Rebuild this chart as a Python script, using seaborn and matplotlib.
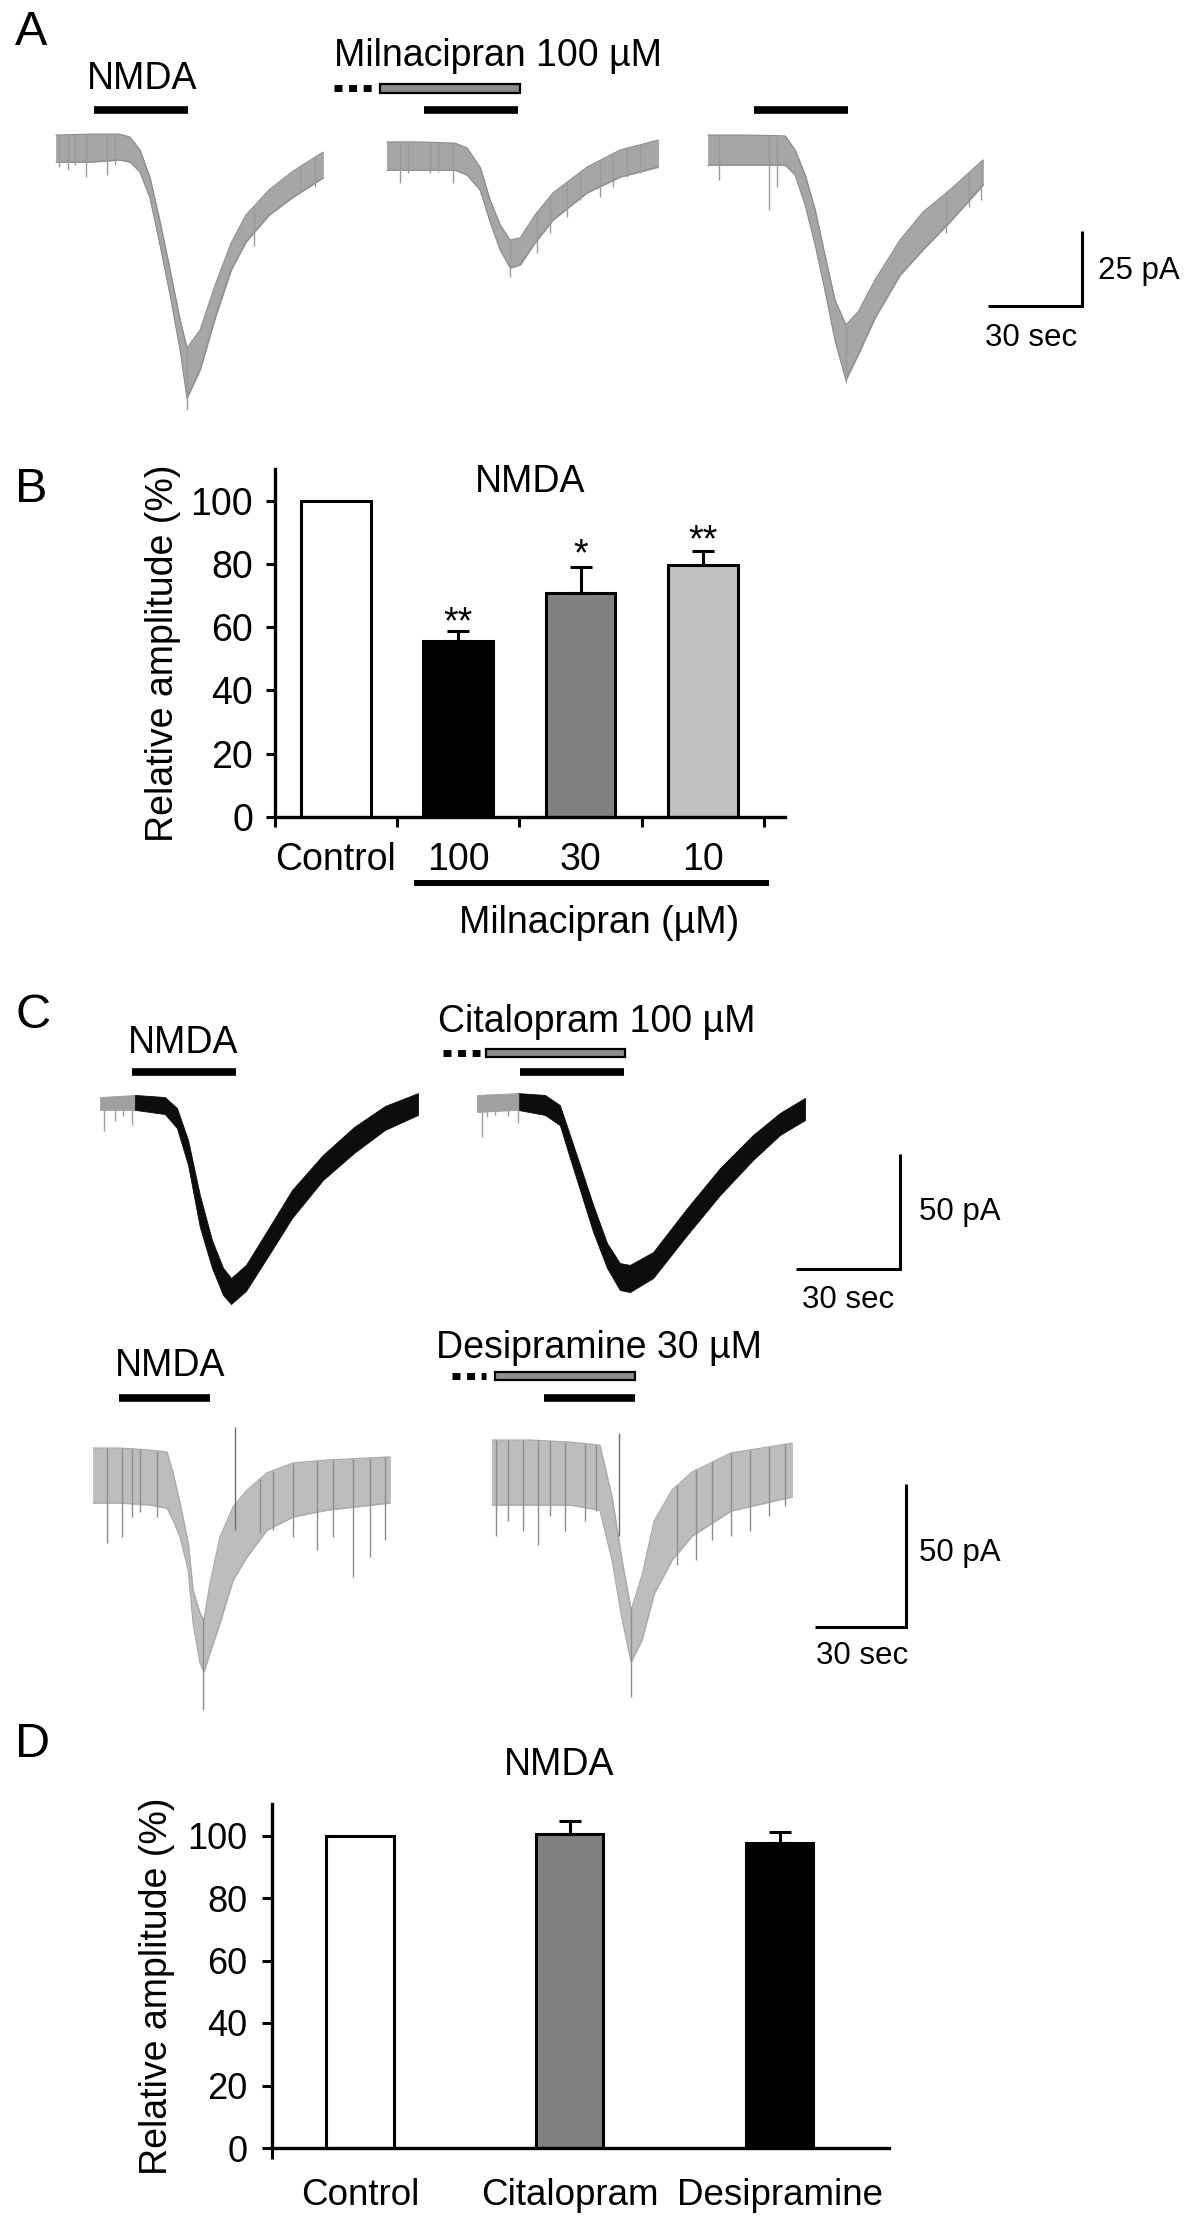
import numpy as np
import pandas as pd
import matplotlib
matplotlib.use('Agg')
import matplotlib.pyplot as plt
import seaborn as sns
from matplotlib.patches import Rectangle
from matplotlib.lines import Line2D

# ------------------------------------------------------------------ data
# Panel B (relative amplitude, %)
b_categories = ['Control', '100', '30', '10']
b_values = [100.0, 55.5, 70.9, 79.8]
b_errors = [0.0, 3.2, 8.0, 4.2]
b_stars = ['', '**', '*', '**']
b_star_y = [0.0, 65.1, 86.5, 91.0]
b_colors = ['#ffffff', '#000000', '#808080', '#c0c0c0']

# Panel D (relative amplitude, %)
d_categories = ['Control', 'Citalopram', 'Desipramine']
d_values = [100.0, 100.5, 97.7]
d_errors = [0.0, 4.3, 3.4]
d_colors = ['#ffffff', '#808080', '#000000']

# Panel A traces: time (s), upper / lower envelope of the current (pA)
a1_t = [0, 10.9, 20.4, 23.6, 26.8, 30.0, 33.2, 36.4, 39.6, 41.8, 46.0, 50.8, 55.9, 60.6, 68.0, 75.3, 85.2]
a1_top = [5.0, 5.3, 5.3, 4.3, 0.0, -9.3, -24.0, -40.0, -56.7, -66.0, -60.0, -45.0, -31.0, -21.7, -13.3, -7.3, -0.7]
a1_bot = [-4.0, -4.0, -3.3, -4.0, -7.3, -16.0, -31.7, -48.3, -66.7, -82.7, -73.3, -56.0, -40.0, -30.7, -21.7, -16.0, -9.3]
a1_spike_t = [1.0, 3.8, 6.1, 9.6, 16.3, 18.8, 41.8, 63.2, 77.9, 82.7]
a1_spike_v = [-5.7, -6.7, -5.0, -9.0, -8.3, -5.0, -86.7, -32.0, -14.3, -12.3]

a2_t = [0, 10.5, 21.7, 25.5, 29.7, 32.9, 36.1, 39.3, 42.5, 47.2, 53.0, 63.8, 74.4, 86.5]
a2_top = [2.7, 2.7, 2.3, 0.7, -5.7, -16.7, -25.0, -30.0, -29.3, -21.7, -14.3, -5.7, 0.0, 3.3]
a2_bot = [-6.7, -6.7, -6.7, -8.3, -13.3, -24.0, -33.3, -39.3, -38.3, -31.0, -23.3, -14.3, -9.0, -5.7]
a2_spike_t = [4.1, 6.7, 13.7, 16.3, 21.1, 39.3, 47.9, 52.0, 57.5, 61.6, 68.0, 72.1, 76.6, 80.8]
a2_spike_v = [-11.0, -7.7, -7.7, -7.3, -11.0, -42.3, -34.3, -27.7, -22.3, -16.7, -15.7, -12.3, -9.0, -7.7]

a3_t = [0, 13.4, 24.6, 27.8, 31.0, 34.2, 37.3, 40.5, 44.0, 47.9, 53.3, 61.3, 68.6, 77.2, 87.8]
a3_top = [5.0, 5.0, 4.7, 0.0, -8.3, -20.0, -35.0, -50.0, -58.3, -54.0, -43.3, -30.0, -20.7, -13.3, -3.3]
a3_bot = [-5.0, -5.0, -5.0, -8.3, -18.3, -31.7, -46.7, -63.3, -76.7, -68.3, -56.0, -41.7, -33.3, -24.0, -11.7]
a3_spike_t = [3.5, 19.5, 22.0, 44.0, 76.0, 83.3, 87.2]
a3_spike_v = [-10.0, -20.0, -12.3, -77.7, -27.7, -19.0, -16.7]

# Panel C, citalopram row
c1_t = [0, 10.1, 18.7, 22.2, 25.4, 28.8, 32.3, 35.5, 37.8, 42.1, 48.7, 55.4, 64.3, 73.3, 82.2, 91.7]
c1_top = [2.6, 3.5, 2.6, -2.2, -16.1, -40.0, -59.6, -71.7, -76.1, -70.4, -54.3, -37.8, -22.6, -10.4, -1.3, 4.3]
c1_bot = [-3.0, -3.0, -4.8, -10.9, -27.0, -53.9, -71.7, -83.5, -87.4, -81.7, -66.1, -50.0, -33.5, -21.7, -11.7, -5.2]
c1_spike_t = [1.2, 4.3, 6.6, 9.2]
c1_spike_v = [-12.2, -7.8, -5.6, -9.6]

c2_t = [0, 11.8, 19.6, 23.9, 26.8, 29.7, 33.5, 37.5, 41.2, 44.1, 50.8, 60.6, 70.1, 79.6, 87.4, 94.6]
c2_top = [3.5, 4.3, 3.5, -0.9, -13.9, -27.0, -44.3, -60.9, -69.6, -70.4, -64.8, -45.7, -28.3, -13.9, -4.3, 2.2]
c2_bot = [-3.9, -3.0, -5.2, -9.6, -23.9, -37.8, -56.1, -71.7, -81.3, -82.2, -76.1, -57.4, -40.0, -24.8, -13.9, -7.4]
c2_spike_t = [1.4, 2.9, 5.2, 8.9, 11.8]
c2_spike_v = [-14.8, -6.1, -5.0, -5.5, -8.7]

# Panel C, desipramine row
c3_t = [0, 8.9, 18.8, 24.4, 26.4, 28.7, 31.4, 33.0, 35.3, 36.6, 38.6, 41.9, 46.2, 50.8, 57.4, 66.0, 77.2, 98.0]
c3_top = [0.7, 0.7, 0.0, -0.7, -8.0, -18.5, -32.5, -49.0, -57.0, -59.4, -46.5, -30.4, -19.9, -14.0, -8.0, -4.5, -3.5, -2.4]
c3_bot = [-18.5, -18.5, -19.2, -20.3, -24.5, -30.4, -42.0, -60.5, -74.5, -77.6, -70.9, -60.5, -45.5, -37.4, -28.0, -23.4, -21.0, -18.5]
c3_spike_t = [4.6, 9.6, 12.9, 15.5, 21.1, 36.2, 55.1, 59.4, 66.0, 73.9, 79.2, 85.8, 91.4, 96.4]
c3_spike_v = [-32.5, -30.4, -23.4, -21.7, -23.4, -90.9, -29.0, -28.0, -30.4, -35.0, -30.4, -44.4, -37.4, -31.5]
c3_artifact = (46.9, 8.0, -28.0)

c4_t = [0, 12.5, 25.7, 35.6, 39.6, 42.9, 45.9, 49.5, 53.5, 59.4, 66.0, 78.9, 99.0]
c4_top = [3.5, 3.5, 2.8, 1.7, -16.4, -38.5, -55.9, -43.7, -24.8, -14.0, -7.7, -1.0, 2.4]
c4_bot = [-19.2, -19.2, -19.2, -21.0, -38.5, -59.1, -74.1, -66.4, -50.3, -38.5, -30.1, -21.3, -16.4]
c4_spike_t = [1.3, 5.3, 10.2, 15.2, 19.1, 24.1, 30.7, 34.3, 46.0, 61.1, 67.3, 72.6, 78.9, 85.1, 91.4, 96.7]
c4_spike_v = [-30.1, -24.8, -28.3, -33.2, -23.1, -28.3, -24.8, -21.3, -86.4, -40.2, -38.5, -31.5, -30.1, -28.3, -23.1, -19.6]
c4_artifact = (41.9, 5.9, -30.0)

# Drug applications (s, relative to trace start)
nmda_duration = 30.0
a_nmda_start = [12.1, 11.8, 14.7]
a_drug = (-2.2, 42.5)
a_pre = (-16.9, -4.8)
cu_nmda_start = [9.2, 12.4]
cu_drug = (2.6, 42.7)
cu_pre = (-9.8, 0.9)
cl_nmda_start = [8.6, 17.2]
cl_drug = (1.0, 47.2)
cl_pre = (-13.2, -2.0)

# ------------------------------------------------------------------ style
sns.set_style('ticks', {'axes.edgecolor': 'black', 'xtick.color': 'black',
                        'ytick.color': 'black', 'text.color': 'black',
                        'axes.labelcolor': 'black'})
plt.rcParams['font.family'] = ['Liberation Sans', 'DejaVu Sans']

W, H, DPI = 1200, 2221, 100
fig = plt.figure(figsize=(W / DPI, H / DPI), dpi=DPI)


def txt(x, ycap, s, size, ha='center', **kw):
    base = ycap + 0.358 * size * DPI / 72.0
    fig.text(x / W, 1 - base / H, s, fontsize=size, ha=ha, va='baseline', **kw)


def row_axes(y0, y1, base, pxs, pxpa):
    ax = fig.add_axes([0, 1 - y1 / H, 1, (y1 - y0) / H])
    ax.set_xlim(0, W / pxs)
    ax.set_ylim((base - y1) / pxpa, (base - y0) / pxpa)
    ax.axis('off')
    ax.pxs, ax.pxpa, ax.base = pxs, pxpa, base
    return ax


def ypx(ax, y):
    return (ax.base - y) / ax.pxpa


def band(ax, start_px, t, top, bot, face, edge=None, split=None, face0=None,
         spikes=None, spike_color=None, artifact=None):
    x0 = start_px / ax.pxs
    t = x0 + np.asarray(t, float)
    top = np.asarray(top, float)
    bot = np.asarray(bot, float)
    if split is None:
        ax.fill_between(t, bot, top, color=face, lw=0.6, edgecolor=face)
    else:
        s = x0 + split
        ax.fill_between(t, bot, top, where=t <= s + 1e-6, color=face0, lw=0.6, edgecolor=face0)
        ax.fill_between(t, bot, top, where=t >= s - 1e-6, color=face, lw=0.6, edgecolor=face)
    if edge is not None:
        ax.plot(t, top, color=edge, lw=0.8)
        ax.plot(t, bot, color=edge, lw=0.8)
    if spikes is not None:
        st = x0 + np.asarray(spikes[0], float)
        ax.vlines(st, np.interp(st, t, top), spikes[1], color=spike_color, lw=1.0)
    if artifact is not None:
        ax.vlines(x0 + artifact[0], artifact[2], artifact[1], color='#707070', lw=1.0)


def stim(ax, start_px, nmda_start, y_nmda, drug=None, pre=None, y_drug=None, h_drug=8):
    x0 = start_px / ax.pxs
    ax.plot([x0 + nmda_start, x0 + nmda_start + nmda_duration], [ypx(ax, y_nmda)] * 2,
            color='black', lw=5.5, solid_capstyle='butt')
    if drug is not None:
        hh = h_drug / ax.pxpa
        yc = ypx(ax, y_drug)
        ax.add_patch(Rectangle((x0 + drug[0], yc - hh / 2), drug[1] - drug[0], hh,
                               facecolor='#8c8c8c', edgecolor='black', lw=1.6))
        ax.plot([x0 + pre[0], x0 + pre[1]], [yc, yc], color='black', lw=5,
                dashes=(1.15, 0.95), dash_capstyle='butt')


def scalebar(ax, cx_px, cy_px, tlen, alen):
    cx = cx_px / ax.pxs
    cy = ypx(ax, cy_px)
    ax.plot([cx - tlen, cx, cx], [cy, cy, cy + alen], color='black', lw=2.2,
            solid_joinstyle='miter', solid_capstyle='butt')


# ------------------------------------------------------------------ Panel A
axA = row_axes(0, 430, 150, 3.133, 3.0)
a_starts = [56, 387, 708]
a_traces = [(a1_t, a1_top, a1_bot, a1_spike_t, a1_spike_v),
            (a2_t, a2_top, a2_bot, a2_spike_t, a2_spike_v),
            (a3_t, a3_top, a3_bot, a3_spike_t, a3_spike_v)]
for st, (t, tp, bt, sp_t, sp_v) in zip(a_starts, a_traces):
    band(axA, st, t, tp, bt, '#a6a6a6', edge='#8a8a8a',
         spikes=(sp_t, sp_v), spike_color='#9a9a9a')
for i, st in enumerate(a_starts):
    if i == 1:
        stim(axA, st, a_nmda_start[i], 110, a_drug, a_pre, 88, 9)
    else:
        stim(axA, st, a_nmda_start[i], 110)
scalebar(axA, 1082, 306, 30, 25)
txt(15, 28, 'A', 35, ha='left')
txt(142, 76, 'NMDA', 27)
txt(498, 52.5, 'Milnacipran 100 µM', 27)
txt(1098, 268, '25 pA', 22.5, ha='left')
txt(1031, 334.5, '30 sec', 22.5)

# ------------------------------------------------------------------ Panel B
axB = fig.add_axes([274.5 / W, 1 - 817 / H, (785 - 274.5) / W, (817 - 469.1) / H])
dfB = pd.DataFrame({'cond': b_categories, 'amp': b_values})
sns.barplot(data=dfB, x='cond', y='amp', hue='cond', order=b_categories,
            hue_order=b_categories, palette=dict(zip(b_categories, b_colors)),
            width=0.57, edgecolor='black', linewidth=2.2, saturation=1,
            legend=False, errorbar=None, ax=axB)
axB.errorbar([1, 2, 3], b_values[1:], yerr=[[0, 0, 0], b_errors[1:]], fmt='none',
             ecolor='black', elinewidth=2.2, capsize=8, capthick=2.2, zorder=3)
for i, (s, y) in enumerate(zip(b_stars, b_star_y)):
    if s:
        axB.text(i, y - 6.9, s, ha='center', va='baseline', fontsize=27)
axB.set_xlim(-0.5, 3.67)
axB.set_ylim(0, 110)
axB.set_yticks([0, 20, 40, 60, 80, 100])
axB.set_xticks(range(4))
axB.set_xticklabels(b_categories)
axB.set_xticks([-0.5, 0.5, 1.5, 2.5, 3.5], minor=True)
axB.tick_params(axis='x', which='major', length=0, pad=18, labelsize=27)
axB.tick_params(axis='x', which='minor', length=7.5, width=2.2, direction='out')
axB.tick_params(axis='y', length=6.5, width=2.2, pad=9, labelsize=27)
axB.set_xlabel('')
axB.set_ylabel('Relative amplitude (%)', fontsize=27)
axB.yaxis.set_label_coords(-0.183, 0.471)
sns.despine(ax=axB)
for sp in ('left', 'bottom'):
    axB.spines[sp].set_linewidth(2.4)
txt(15, 485, 'B', 35, ha='left')
txt(530, 478.5, 'NMDA', 27)
fig.add_artist(Line2D([414 / W, 769 / W], [1 - 883 / H, 1 - 883 / H], color='black', lw=4.3,
                      transform=fig.transFigure, solid_capstyle='butt'))
txt(599, 919.5, 'Milnacipran (µM)', 27)

# ------------------------------------------------------------------ Panel C
axCu = row_axes(990, 1330, 1103, 3.467, 2.3)
band(axCu, 100, c1_t, c1_top, c1_bot, '#0d0d0d', split=10.1, face0='#a0a0a0',
     spikes=(c1_spike_t, c1_spike_v), spike_color='#a0a0a0')
band(axCu, 477, c2_t, c2_top, c2_bot, '#0d0d0d', split=11.8, face0='#a0a0a0',
     spikes=(c2_spike_t, c2_spike_v), spike_color='#a0a0a0')
stim(axCu, 100, cu_nmda_start[0], 1072)
stim(axCu, 477, cu_nmda_start[1], 1072, cu_drug, cu_pre, 1052.5, 8)
scalebar(axCu, 900, 1269, 30, 50)
txt(15, 1011, 'C', 35, ha='left')
txt(183, 1040, 'NMDA', 27)
txt(597, 1018.5, 'Citalopram 100 µM', 27)
txt(919, 1209, '50 pA', 22.5, ha='left')
txt(848, 1297, '30 sec', 22.5)

axCl = row_axes(1330, 1720, 1450, 3.03, 2.86)
band(axCl, 93, c3_t, c3_top, c3_bot, '#bdbdbd', edge='#a8a8a8',
     spikes=(c3_spike_t, c3_spike_v), spike_color='#8e8e8e', artifact=c3_artifact)
band(axCl, 492, c4_t, c4_top, c4_bot, '#bdbdbd', edge='#a8a8a8',
     spikes=(c4_spike_t, c4_spike_v), spike_color='#8e8e8e', artifact=c4_artifact)
stim(axCl, 93, cl_nmda_start[0], 1398)
stim(axCl, 492, cl_nmda_start[1], 1398, cl_drug, cl_pre, 1376, 8)
scalebar(axCl, 906, 1627, 30, 50)
txt(170, 1363, 'NMDA', 27)
txt(599, 1345, 'Desipramine 30 µM', 27)
txt(919, 1550, '50 pA', 22.5, ha='left')
txt(862, 1653, '30 sec', 22.5)

# ------------------------------------------------------------------ Panel D
axD = fig.add_axes([272 / W, 1 - 2148 / H, (889 - 272) / W, (2148 - 1804.25) / H])
dfD = pd.DataFrame({'cond': d_categories, 'amp': d_values})
sns.barplot(data=dfD, x='cond', y='amp', hue='cond', order=d_categories,
            hue_order=d_categories, palette=dict(zip(d_categories, d_colors)),
            width=0.32, edgecolor='black', linewidth=2.2, saturation=1,
            legend=False, errorbar=None, ax=axD)
axD.errorbar([1, 2], d_values[1:], yerr=[[0, 0], d_errors[1:]], fmt='none',
             ecolor='black', elinewidth=2.2, capsize=8, capthick=2.2, zorder=3)
axD.set_xlim(-0.419, 2.52)
axD.set_ylim(0, 110)
axD.set_yticks([0, 20, 40, 60, 80, 100])
axD.set_xticks(range(3))
axD.set_xticklabels(d_categories)
axD.set_xticks([-0.419], minor=True)
axD.tick_params(axis='x', which='major', length=0, pad=21.5, labelsize=26.5)
axD.tick_params(axis='x', which='minor', length=8, width=2.2, direction='out')
axD.tick_params(axis='y', length=7, width=2.2, pad=10.5, labelsize=26)
axD.set_xlabel('')
axD.set_ylabel('Relative amplitude (%)', fontsize=27)
axD.yaxis.set_label_coords(-0.157, 0.471)
sns.despine(ax=axD)
for sp in ('left', 'bottom'):
    axD.spines[sp].set_linewidth(2.4)
txt(15, 1740, 'D', 35, ha='left')
txt(559, 1762, 'NMDA', 27)

fig.savefig('out.png', dpi=DPI)
